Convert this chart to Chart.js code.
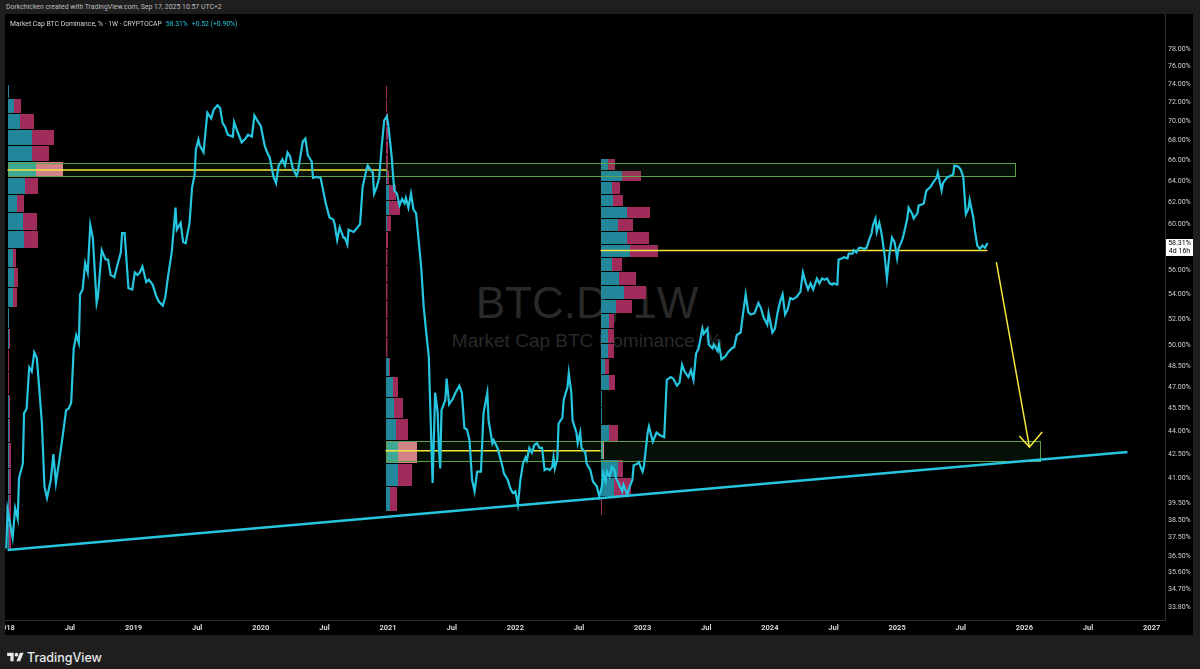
<!DOCTYPE html>
<html>
<head>
<meta charset="utf-8">
<script src="https://cdn.jsdelivr.net/npm/chart.js@4/dist/chart.umd.min.js"></script>
<style>
  html, body { margin: 0; padding: 0; }
  body { width: 1200px; height: 669px; background: #1e1e1e; position: relative; overflow: hidden;
         font-family: Roboto, "Liberation Sans", sans-serif; }
  #panel { position: absolute; left: 5px; top: 14px; width: 1188px; height: 621px; background: #000; }
  #credit { position: absolute; left: 6px; top: 0; height: 14px; line-height: 14px; font-size: 6.9px; color: #bdbdbd; white-space: nowrap; }
  #legend { position: absolute; left: 10px; top: 18px; line-height: 12px; font-size: 6.8px; color: #d1d4dc; white-space: nowrap; z-index: 3; }
  #legend .v { color: #26c6da; margin-left: 4px; }
  .wm { position: absolute; left: 0; width: 1174px; text-align: center; color: #292929; white-space: nowrap;
        font-family: "Liberation Sans", Arial, sans-serif; line-height: 1; }
  #wm1 { top: 281px; font-size: 44px; }
  #wm2 { top: 331px; font-size: 19px; }
  #chart { position: absolute; left: 0; top: 0; z-index: 2; }
  #footer { position: absolute; left: 7px; top: 650px; height: 14px; display: flex; align-items: center; color: #e8e8e8;
            font-family: Inter, Roboto, sans-serif; font-size: 12.5px; font-weight: 500; }
  #footer svg { margin-right: 3px; }
</style>
</head>
<body>
<div id="panel"></div>
<div id="credit">Dorkchicken created with TradingView.com, Sep 17, 2025 10:57 UTC+2</div>
<div class="wm" id="wm1">BTC.D, 1W</div>
<div class="wm" id="wm2">Market Cap BTC Dominance, %</div>
<canvas id="chart" width="1200" height="669"></canvas>
<div id="legend">Market Cap BTC Dominance, % · 1W · CRYPTOCAP<span class="v">58.31%</span><span class="v">+0.52 (+0.90%)</span></div>
<div id="footer"><svg width="17" height="13" viewBox="0 0 36 28"><path d="M14 22H7V11H0V4h14v18zM28 22h-8l7.5-18h8L28 22z" fill="#e8e8e8"/><circle cx="20" cy="8" r="4" fill="#e8e8e8"/></svg>TradingView</div>
<script>
// weekly BTC dominance (decimal year, %)
var btcdDates = [
  2018.00,2018.01,2018.05,2018.07,2018.09,2018.10,2018.13,2018.14,2018.16,2018.18,2018.20,2018.22,2018.24,2018.26,2018.28,2018.30,2018.32,2018.35,2018.37,2018.39,2018.42,2018.45,2018.47,2018.49,2018.51,2018.53,2018.55,2018.57,2018.58,2018.60,2018.62,2018.64,2018.66,2018.68,2018.71,2018.72,2018.75,2018.78,2018.80,2018.82,2018.85,2018.87,2018.90,2018.91,2018.93,2018.96,2018.99,
  2019.01,2019.03,2019.05,2019.07,2019.10,2019.12,2019.15,2019.18,2019.20,2019.23,2019.25,2019.27,2019.30,2019.33,2019.34,2019.37,2019.39,2019.41,2019.44,2019.46,2019.48,2019.49,2019.51,2019.52,2019.55,2019.58,2019.61,2019.63,2019.66,2019.68,2019.70,2019.72,2019.74,2019.78,2019.79,2019.82,2019.85,2019.88,2019.90,2019.93,2019.95,2019.98,
  2020.00,2020.03,2020.05,2020.07,2020.10,2020.12,2020.14,2020.17,2020.19,2020.21,2020.23,2020.25,2020.28,2020.29,2020.33,2020.35,2020.37,2020.40,2020.41,2020.44,2020.47,2020.49,2020.51,2020.54,2020.57,2020.58,2020.60,2020.62,2020.65,2020.66,2020.68,2020.69,2020.73,2020.76,2020.78,2020.80,2020.83,2020.84,2020.88,2020.89,2020.91,2020.93,2020.95,2020.97,2020.99,
  2021.00,2021.02,2021.03,2021.04,2021.05,2021.07,2021.09,2021.11,2021.13,2021.14,2021.16,2021.18,2021.20,2021.22,2021.24,2021.26,2021.28,2021.30,2021.32,2021.33,2021.35,2021.37,2021.39,2021.40,2021.41,2021.42,2021.45,2021.46,2021.48,2021.51,2021.53,2021.56,2021.58,2021.60,2021.62,2021.64,2021.66,2021.68,2021.70,2021.73,2021.75,2021.78,2021.79,2021.82,2021.83,2021.86,2021.87,2021.90,2021.91,2021.94,2021.96,2021.98,
  2022.00,2022.02,2022.04,2022.06,2022.08,2022.09,2022.11,2022.13,2022.15,2022.17,2022.19,2022.21,2022.23,2022.25,2022.27,2022.29,2022.30,2022.31,2022.33,2022.34,2022.37,2022.38,2022.41,2022.42,2022.44,2022.45,2022.48,2022.49,2022.51,2022.52,2022.55,2022.56,2022.59,2022.61,2022.64,2022.66,2022.68,2022.69,2022.71,2022.72,2022.74,2022.76,2022.78,2022.79,2022.81,2022.84,2022.85,2022.88,2022.89,2022.92,2022.93,2022.96,2022.97,
  2023.00,2023.01,2023.04,2023.05,2023.08,2023.11,2023.14,2023.17,2023.19,2023.22,2023.24,2023.27,2023.29,2023.31,2023.33,2023.36,2023.38,2023.40,2023.42,2023.44,2023.47,2023.48,2023.51,2023.52,2023.55,2023.56,2023.59,2023.60,2023.62,2023.65,2023.67,2023.70,2023.72,2023.74,2023.77,2023.79,2023.81,2023.83,2023.85,2023.88,2023.91,2023.93,2023.95,2023.98,2023.99,
  2024.02,2024.04,2024.06,2024.08,2024.10,2024.12,2024.14,2024.16,2024.18,2024.21,2024.24,2024.26,2024.28,2024.30,2024.32,2024.34,2024.37,2024.39,2024.41,2024.43,2024.45,2024.47,2024.49,2024.50,2024.53,2024.54,2024.57,2024.58,2024.61,2024.62,2024.65,2024.66,2024.68,2024.70,2024.72,2024.74,2024.76,2024.78,2024.80,2024.81,2024.83,2024.84,2024.86,2024.88,2024.90,2024.92,2024.94,2024.96,2024.98,
  2025.00,2025.01,2025.04,2025.05,2025.08,2025.09,2025.12,2025.13,2025.16,2025.17,2025.20,2025.21,2025.23,2025.26,2025.28,2025.31,2025.32,2025.35,2025.36,2025.39,2025.42,2025.44,2025.45,2025.48,2025.50,2025.52,2025.54,2025.56,2025.57,2025.60,2025.61,2025.63,2025.65,2025.67,2025.69,2025.71
];
var btcdValues = [
  36.9,39.1,37.5,39.2,38.6,41.0,41.9,45.2,45.5,48.4,48.1,49.5,49.1,46.8,44.5,40.5,39.8,40.9,42.5,40.7,42.3,44.1,45.4,45.5,45.9,49.8,50.8,50.2,54.0,54.4,56.6,55.8,59.9,58.8,53.3,53.8,57.7,56.9,56.9,55.6,55.4,56.3,57.5,59.2,59.2,54.5,54.4,
  55.8,55.6,55.8,56.3,55.0,55.2,54.8,53.8,53.4,53.1,53.8,55.4,57.5,61.5,59.5,60.1,58.4,58.3,60.1,63.4,64.6,67.1,68.1,67.5,66.8,70.9,70.3,71.2,71.7,71.4,69.8,69.4,68.6,68.4,69.9,68.8,67.8,68.2,68.6,68.4,70.6,69.9,
  69.5,67.5,66.8,66.3,64.4,63.8,65.5,66.1,65.5,66.8,66.4,65.3,64.5,64.8,67.9,68.2,66.5,65.9,64.3,64.4,64.3,63.1,61.9,60.6,60.4,60.0,58.6,59.7,58.8,58.8,58.2,59.5,59.3,59.7,60.0,63.4,65.1,65.5,64.8,62.8,63.4,64.3,67.4,70.1,70.5,
  69.8,67.4,66.1,64.4,63.1,62.8,61.7,62.3,61.9,62.4,61.5,62.8,61.3,61.0,58.6,56.3,53.0,51.0,49.2,46.1,40.7,46.6,45.2,42.8,41.6,45.4,46.1,47.6,45.8,46.2,46.6,47.1,46.6,44.2,44.1,43.4,40.9,40.2,41.4,41.4,45.2,46.6,44.7,43.2,43.4,42.9,42.6,41.7,41.3,40.9,40.4,40.1,
  40.2,39.4,40.9,41.9,42.3,42.1,42.9,42.6,43.1,43.2,42.9,42.9,41.5,41.6,41.5,41.7,42.3,41.6,42.2,44.5,44.9,46.1,47.0,48.0,46.6,44.7,43.9,43.2,43.9,42.9,42.6,41.9,41.5,40.8,40.5,39.9,40.5,41.3,40.8,41.4,41.1,41.7,41.5,41.0,40.7,40.2,40.6,40.0,40.3,40.9,41.8,41.9,42.0,
  41.4,41.7,43.9,44.3,43.3,43.9,43.7,43.6,47.5,47.7,47.6,47.1,47.3,48.6,48.1,47.7,48.2,47.5,49.4,49.8,51.3,50.9,51.3,50.1,49.8,50.1,49.6,50.1,49.0,49.2,49.5,49.8,49.9,50.8,51.0,52.5,54.0,52.6,52.4,52.5,53.3,52.9,52.2,51.6,52.5,
  51.0,51.3,52.5,53.4,54.0,52.4,52.8,53.7,53.6,53.8,54.2,55.8,55.0,54.4,54.9,54.4,55.3,54.9,55.3,55.2,55.3,54.9,54.8,54.9,54.8,56.9,57.0,57.1,57.0,57.4,57.4,57.7,57.5,57.9,57.9,57.8,57.9,58.6,59.2,59.9,60.5,59.3,60.1,59.0,57.4,55.3,57.4,58.8,58.4,
  57.0,57.8,58.6,59.0,60.5,61.5,60.9,60.5,61.0,61.7,61.8,61.9,63.1,63.4,63.8,64.3,64.8,63.1,63.8,64.3,64.5,64.6,65.5,65.4,65.1,64.4,60.9,61.4,62.2,60.5,59.5,58.1,57.8,58.1,57.9,58.31
];
var countdown = "4d 16h";

// price axis and time axis ticks
var yTicks = [78, 76, 74, 72, 70, 68, 66, 64, 62, 60, 56, 54, 52, 50, 48.5, 47, 45.5, 44, 42.5, 41, 39.5, 38.5, 37.5, 36.5, 35.6, 34.7, 33.8];
var xTickVals = [2018, 2018.5, 2019, 2019.5, 2020, 2020.5, 2021, 2021.5, 2022, 2022.5, 2023, 2023.5, 2024, 2024.5, 2025, 2025.5, 2026, 2026.5, 2027];
var xTickLabels = ["2018", "Jul", "2019", "Jul", "2020", "Jul", "2021", "Jul", "2022", "Jul", "2023", "Jul", "2024", "Jul", "2025", "Jul", "2026", "Jul", "2027"];

// rising support line
var trendDates = [2018.01, 2026.81];
var trendValues = [36.81, 42.64];

// boxes drawn on the chart
var zoneStart = [2018.01, 2020.98];
var zoneEnd = [2025.93, 2026.12];
var zoneHigh = [65.73, 43.32];
var zoneLow = [64.44, 42.10];

// point of control lines of the three volume profiles
var pocStart = [2018.01, 2020.98, 2022.67];
var pocEnd = [2020.99, 2022.67, 2025.71];
var pocPrice = [65.06, 42.72, 57.67];

// projection arrow
var arrowDates = [2025.78, 2026.04];
var arrowValues = [56.68, 42.96];
var arrowHeadDates = [2025.96, 2026.04, 2026.14];
var arrowHeadValues = [43.67, 42.96, 43.94];

// volume profiles: row price edges (top to bottom), up / down volume per row
var profile1Start = 2018.01;
var profile1Edges = [74.06,72.44,70.82,69.20,67.58,65.96,64.34,62.72,61.10,59.48,57.86,56.24,54.62,53.00,51.38,49.76,48.14,46.52,44.90,43.28,41.66,40.04,38.42,36.80];
var profile1Up =   [1,6,12,24,24,28,17,9,15,16,5,6,5,1,1,0,0,1,1,1,1,1,1];
var profile1Down = [0,7,14,22,17,27,13,7,14,14,3,4,4,0,1,1,1,1,1,2,2,2,2];

var profile2Start = 2020.98;
var profile2Edges = [73.85,72.40,70.95,69.50,68.05,66.60,65.15,63.70,62.25,60.80,59.35,57.90,56.45,55.00,53.55,52.10,50.65,49.20,47.75,46.30,44.85,43.40,41.95,40.50,39.05];
var profile2Up =   [0,0,0,0,0,0,1,3,3,1,0,0,0,0,0,0,0,3,7,8,10,12,12,4];
var profile2Down = [1,1,2,2,2,2,2,7,11,4,2,1.5,1.5,1.5,1.5,1.5,1.5,1,5,9,12,19,14,7];

var profile3Start = 2022.67;
var profile3Edges = [66.25,65.10,63.96,62.81,61.67,60.52,59.38,58.23,57.09,55.94,54.80,53.65,52.51,51.36,50.22,49.07,47.93,46.78,45.64,44.49,43.35,42.20,41.06,39.91,38.77];
var profile3Up =   [7,21,11,12,26,17,26,29,11,18,23,15,8,7,7,4,8,1,1,8,2,17,13,0];
var profile3Down = [7,19,8,10,23,15,22,28,10,17,22,16,5,6,6,4,6,0,0,9,1,5,17,1];

var CYAN = "#26c6e0";
var YELLOW = "#f5e63c";
var PROFILE_PX = 1;

function pts(xs, ys) {
  return xs.map(function (t, i) { return { x: t, y: ys[i] }; });
}

// row fully covered by a drawn box gets the lighter colours
function rowInZone(t, hi, lo) {
  for (var i = 0; i < zoneStart.length; i++) {
    if (t >= zoneStart[i] - 0.01 && t <= zoneEnd[i] && hi >= zoneHigh[i] - 0.15 && lo <= zoneLow[i] + 0.15) return true;
  }
  return false;
}

function drawProfile(ctx, xs, ys, start, edges, up, down) {
  var x0 = Math.round(xs.getPixelForValue(start));
  for (var i = 0; i < up.length; i++) {
    var yTop = Math.round(ys.getPixelForValue(edges[i]));
    var yBot = Math.round(ys.getPixelForValue(edges[i + 1]));
    var hl = rowInZone(start, edges[i], edges[i + 1]);
    var h = yBot - yTop - 1;
    ctx.fillStyle = hl ? "#3ea79d" : "#22879b";
    ctx.fillRect(x0, yTop + 1, up[i] * PROFILE_PX, h);
    ctx.fillStyle = hl ? "#de7f8c" : "#a02c5b";
    ctx.fillRect(x0 + up[i] * PROFILE_PX, yTop + 1, down[i] * PROFILE_PX, h);
  }
}

var overlays = {
  id: "overlays",
  beforeDatasetsDraw: function (chart) {
    var ctx = chart.ctx, a = chart.chartArea, xs = chart.scales.x, ys = chart.scales.y;
    ctx.save();
    ctx.beginPath();
    ctx.rect(a.left, a.top, a.right - a.left, a.bottom - a.top);
    ctx.clip();
    drawProfile(ctx, xs, ys, profile1Start, profile1Edges, profile1Up, profile1Down);
    drawProfile(ctx, xs, ys, profile2Start, profile2Edges, profile2Up, profile2Down);
    drawProfile(ctx, xs, ys, profile3Start, profile3Edges, profile3Up, profile3Down);
    for (var i = 0; i < zoneStart.length; i++) {
      var x0 = Math.round(xs.getPixelForValue(zoneStart[i])) + 0.5;
      var x1 = Math.round(xs.getPixelForValue(zoneEnd[i])) + 0.5;
      var y0 = Math.round(ys.getPixelForValue(zoneHigh[i])) + 0.5;
      var y1 = Math.round(ys.getPixelForValue(zoneLow[i])) + 0.5;
      ctx.fillStyle = "rgba(76,175,80,0.09)";
      ctx.fillRect(x0, y0, x1 - x0, y1 - y0);
      ctx.strokeStyle = "#5f9f4d";
      ctx.lineWidth = 1;
      ctx.strokeRect(x0, y0, x1 - x0, y1 - y0);
    }
    ctx.restore();
  },
  afterDraw: function (chart) {
    var ctx = chart.ctx, xs = chart.scales.x, ys = chart.scales.y;
    // left frame edge over the first time label
    ctx.fillStyle = "#1e1e1e";
    ctx.fillRect(0, xs.top + 1, 5, xs.height);
    // last price label
    var last = btcdValues[btcdValues.length - 1];
    var yp = Math.round(ys.getPixelForValue(last));
    ctx.fillStyle = "#ffffff";
    ctx.fillRect(ys.left + 1, yp - 4, ys.width - 1, 17);
    ctx.fillStyle = "#000000";
    ctx.font = "7px Roboto, sans-serif";
    ctx.textAlign = "center";
    ctx.textBaseline = "middle";
    ctx.fillText(last.toFixed(2) + "%", ys.left + ys.width / 2 + 0.5, yp + 0.5);
    ctx.fillText(countdown, ys.left + ys.width / 2 + 0.5, yp + 8.5);
  }
};

function lineSet(data, color, width) {
  return { data: data, borderColor: color, borderWidth: width, pointRadius: 0, tension: 0, fill: false };
}

Chart.defaults.font.family = "Roboto, 'Liberation Sans', sans-serif";

var ctx = document.getElementById("chart").getContext("2d");
var btcdChart = new Chart(ctx, {
  type: "line",
  data: {
    datasets: [
      lineSet(pts(btcdDates, btcdValues), CYAN, 2.2),
      lineSet(pts(trendDates, trendValues), CYAN, 2.5),
      lineSet(pts([pocStart[0], pocEnd[0]], [pocPrice[0], pocPrice[0]]), YELLOW, 1.5),
      lineSet(pts([pocStart[1], pocEnd[1]], [pocPrice[1], pocPrice[1]]), YELLOW, 1.5),
      lineSet(pts([pocStart[2], pocEnd[2]], [pocPrice[2], pocPrice[2]]), YELLOW, 1.5),
      lineSet(pts(arrowDates, arrowValues), YELLOW, 1.5),
      lineSet(pts(arrowHeadDates, arrowHeadValues), YELLOW, 1.5)
    ]
  },
  options: {
    responsive: false,
    animation: false,
    devicePixelRatio: 1,
    layout: { autoPadding: false, padding: { left: 5, top: 14, right: 7, bottom: 34 } },
    plugins: { legend: { display: false }, tooltip: { enabled: false } },
    scales: {
      x: {
        type: "linear",
        min: 2017.99,
        max: 2027.105,
        grid: { display: false, drawTicks: false },
        border: { display: true, color: "#2e2e2e" },
        afterFit: function (s) { s.height = 15; s.paddingLeft = 0; s.paddingRight = 0; },
        afterBuildTicks: function (s) { s.ticks = xTickVals.map(function (v) { return { value: v }; }); },
        ticks: {
          autoSkip: false, maxRotation: 0, minRotation: 0, padding: 4,
          color: "#d6d6d6", font: { size: 7.5, weight: "bold" },
          callback: function (v) { var i = xTickVals.indexOf(v); return i < 0 ? "" : xTickLabels[i]; }
        }
      },
      y: {
        type: "logarithmic",
        position: "right",
        min: 33.15,
        max: 82.2,
        grid: { display: false, drawTicks: false },
        border: { display: true, color: "#2e2e2e" },
        afterFit: function (s) { s.width = 28; s.paddingTop = 0; s.paddingBottom = 0; },
        afterBuildTicks: function (s) { s.ticks = yTicks.map(function (v) { return { value: v }; }); },
        ticks: {
          padding: 3, crossAlign: "center",
          color: "#d0d0d0", font: { size: 7 },
          callback: function (v) { return Number(v).toFixed(2) + "%"; }
        }
      }
    }
  },
  plugins: [overlays]
});
</script>
</body>
</html>
